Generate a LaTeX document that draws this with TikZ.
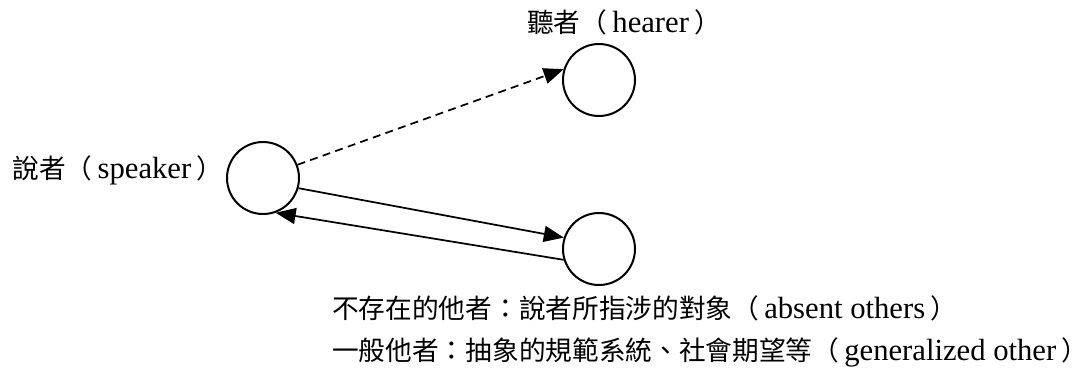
\documentclass[tikz,border=0pt]{standalone}
\usepackage{fontspec}
\setmainfont{Liberation Serif}
\newfontfamily\cjk[Scale=0.87]{Noto Sans CJK TC}
\newcommand{\zh}[1]{{\cjk #1}}
\usepackage{tikz}
\usetikzlibrary{arrows.meta,positioning}
\tikzset{
	person/.style={circle, draw, line width=1.5pt, minimum size=54pt, inner sep=0pt},
	talk/.style={line width=1.3pt, -{Triangle[length=15pt,width=12pt]}},
	lbl/.style={inner sep=0pt, font=\fontsize{23}{28}\selectfont}
}

\begin{document}
\begin{tikzpicture}[x=0.75pt, y=-0.75pt]
	\useasboundingbox (0,0) rectangle (1088,376);
	\node[person] (sp) at (263,178) {};
	\node[person] (he) at (599,80) {};
	\node[person] (ab) at (599,249) {};
	\node[lbl, anchor=base east] (splbl) at ([xshift=-2pt]sp.west) {\zh{說者（}\,speaker\,\zh{）}};
	\node[lbl, anchor=base west] (helbl) at (527,32) {\zh{聽者（}\,hearer\,\zh{）}};
	\node[lbl, anchor=base west] (ablbl) at (332,318) {\zh{不存在的他者：說者所指涉的對象（}\,absent others\,\zh{）}};
	\node[lbl, anchor=base west] (genlbl) at (332,360) {\zh{一般他者：抽象的規範系統、社會期望等（}\,generalized other\,\zh{）}};
	\draw[talk, dash pattern=on 6pt off 4pt] (sp.21) -- (he.163);
	\draw[talk] (sp.-16) -- (ab.162);
	\draw[talk] (ab.-163) -- (sp.-70);
\end{tikzpicture}
\end{document}
